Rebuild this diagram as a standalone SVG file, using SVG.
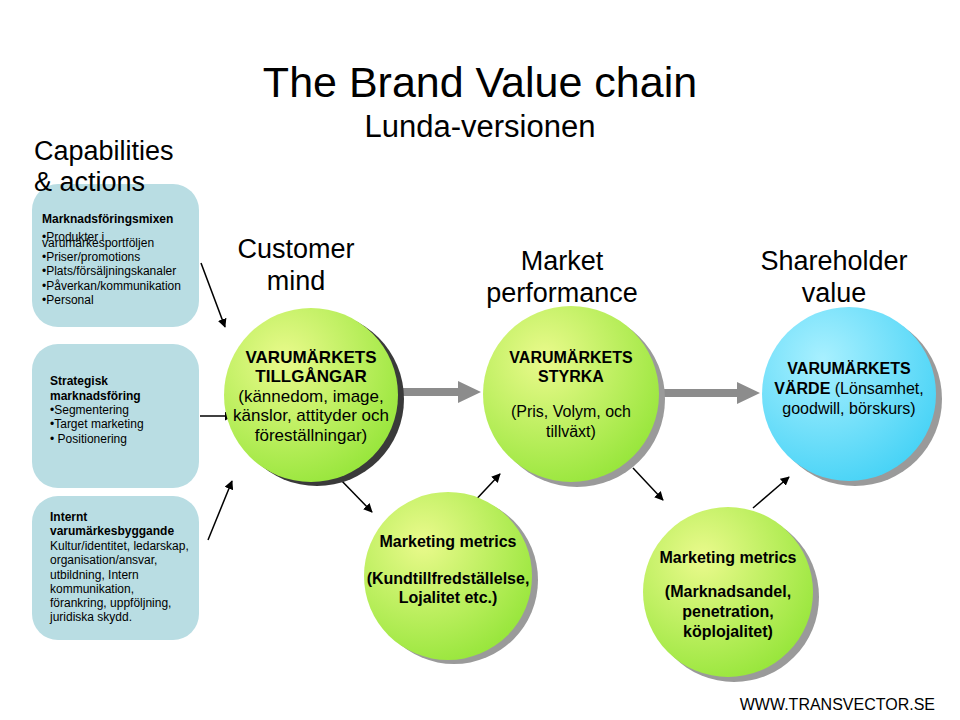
<svg xmlns="http://www.w3.org/2000/svg" width="960" height="720" viewBox="0 0 960 720">
<defs>
<radialGradient id="g" cx="0.35" cy="0.3" r="0.75">
<stop offset="0" stop-color="#eafa8c"/>
<stop offset="1" stop-color="#98e63c"/>
</radialGradient>
<radialGradient id="c" cx="0.35" cy="0.3" r="0.75">
<stop offset="0" stop-color="#a8f0ff"/>
<stop offset="1" stop-color="#48d3f6"/>
</radialGradient>
<marker id="a" viewBox="0 0 10 10" refX="9" refY="5" markerWidth="9" markerHeight="9" markerUnits="userSpaceOnUse" orient="auto">
<path d="M0,0 L10,5 L0,10 z" fill="#000"/>
</marker>
</defs>
<style>
text{font-family:"Liberation Sans",Arial,sans-serif;fill:#000}
.h{font-size:27px}
.box{fill:#b9dde3}
.s{font-size:12px}
.b{font-weight:bold}
.m{font-size:16px;text-anchor:middle}
.m1{font-size:17px;text-anchor:middle}
.ln{stroke:#000;stroke-width:1.5;fill:none;marker-end:url(#a)}
.big{fill:#8c8c8c}
</style>
<rect width="960" height="720" fill="#fff"/>
<g id="box1">
<rect x="32" y="184" width="167" height="143" rx="26" class="box"/>
<text x="42" y="223" class="s b">Marknadsföringsmixen</text>
<text x="42" y="241" class="s">•Produkter i</text>
<text x="42" y="247" class="s">varumärkesportföljen</text>
<text x="42" y="261" class="s">•Priser/promotions</text>
<text x="42" y="275" class="s">•Plats/försäljningskanaler</text>
<text x="42" y="290" class="s">•Påverkan/kommunikation</text>
<text x="42" y="304" class="s">•Personal</text>
</g>
<g id="box2">
<rect x="32" y="344" width="167" height="144" rx="26" class="box"/>
<text x="50" y="385" class="s b">Strategisk</text>
<text x="50" y="400" class="s b">marknadsföring</text>
<text x="50" y="414" class="s">•Segmentering</text>
<text x="50" y="428" class="s">•Target marketing</text>
<text x="50" y="443" class="s">• Positionering</text>
</g>
<g id="box3">
<rect x="32" y="496" width="167" height="144" rx="26" class="box"/>
<text x="50" y="521" class="s b">Internt</text>
<text x="50" y="535" class="s b">varumärkesbyggande</text>
<text x="50" y="550" class="s">Kultur/identitet, ledarskap,</text>
<text x="50" y="564" class="s">organisation/ansvar,</text>
<text x="50" y="579" class="s">utbildning, Intern</text>
<text x="50" y="593" class="s">kommunikation,</text>
<text x="50" y="607" class="s">förankring, uppföljning,</text>
<text x="50" y="621" class="s">juridiska skydd.</text>
</g>
<g id="titles">
<text x="480" y="97" font-size="43" text-anchor="middle">The Brand Value chain</text>
<text x="480" y="137" font-size="31" text-anchor="middle">Lunda-versionen</text>
<text x="34" y="160" class="h">Capabilities</text>
<text x="34" y="191" class="h">&amp; actions</text>
<text x="296" y="258" class="h" text-anchor="middle">Customer</text>
<text x="296" y="290" class="h" text-anchor="middle">mind</text>
<text x="562" y="270" class="h" text-anchor="middle">Market</text>
<text x="562" y="302" class="h" text-anchor="middle">performance</text>
<text x="834" y="270" class="h" text-anchor="middle">Shareholder</text>
<text x="834" y="302" class="h" text-anchor="middle">value</text>
<text x="935" y="710" font-size="16" text-anchor="end">WWW.TRANSVECTOR.SE</text>
</g>
<g id="connectors">
<path class="big" d="M397,388 L458,388 L458,381 L481,392 L458,403 L458,396 L397,396 z"/>
<path class="big" d="M662,389 L737,389 L737,382 L760,393 L737,404 L737,397 L662,397 z"/>
<line class="ln" x1="201" y1="263" x2="225" y2="327"/>
<line class="ln" x1="200" y1="416" x2="233" y2="416"/>
<line class="ln" x1="208" y1="540" x2="232" y2="481"/>
<line class="ln" x1="338" y1="477" x2="372" y2="512"/>
<line class="ln" x1="471" y1="505" x2="500" y2="474"/>
<line class="ln" x1="633" y1="468" x2="663" y2="500"/>
<line class="ln" x1="753" y1="508" x2="789" y2="477"/>
</g>
<g id="circle1">
<circle cx="317" cy="399" r="87" fill="#3a3a3a"/>
<circle cx="311" cy="395" r="87" fill="url(#g)"/>
<text x="311" y="363" class="m1 b">VARUMÄRKETS</text>
<text x="311" y="382" class="m1 b">TILLGÅNGAR</text>
<text x="311" y="402" class="m1">(kännedom, image,</text>
<text x="311" y="421" class="m1">känslor, attityder och</text>
<text x="311" y="441" class="m1">föreställningar)</text>
</g>
<g id="circle2">
<circle cx="577" cy="399" r="88" fill="#9a9a9a"/>
<circle cx="571" cy="394" r="88" fill="url(#g)"/>
<text x="571" y="363" class="m b">VARUMÄRKETS</text>
<text x="571" y="382" class="m b">STYRKA</text>
<text x="571" y="417" class="m">(Pris, Volym, och</text>
<text x="571" y="437" class="m">tillväxt)</text>
</g>
<g id="circle3">
<circle cx="855" cy="399" r="87" fill="#9a9a9a"/>
<circle cx="849" cy="394" r="87" fill="url(#c)"/>
<text x="849" y="374" class="m b">VARUMÄRKETS</text>
<text x="849" y="394" class="m"><tspan font-weight="bold">VÄRDE</tspan> (Lönsamhet,</text>
<text x="849" y="414" class="m">goodwill, börskurs)</text>
</g>
<g id="metrics1">
<circle cx="454" cy="580" r="84" fill="#9a9a9a"/>
<circle cx="448" cy="576" r="84" fill="url(#g)"/>
<text x="448" y="547" class="m b">Marketing metrics</text>
<text x="448" y="584" class="m b">(Kundtillfredställelse,</text>
<text x="448" y="603" class="m b">Lojalitet etc.)</text>
</g>
<g id="metrics2">
<circle cx="734" cy="597" r="85" fill="#9a9a9a"/>
<circle cx="728" cy="592" r="85" fill="url(#g)"/>
<text x="728" y="563" class="m b">Marketing metrics</text>
<text x="728" y="597" class="m b">(Marknadsandel,</text>
<text x="728" y="617" class="m b">penetration,</text>
<text x="728" y="637" class="m b">köplojalitet)</text>
</g>
</svg>
